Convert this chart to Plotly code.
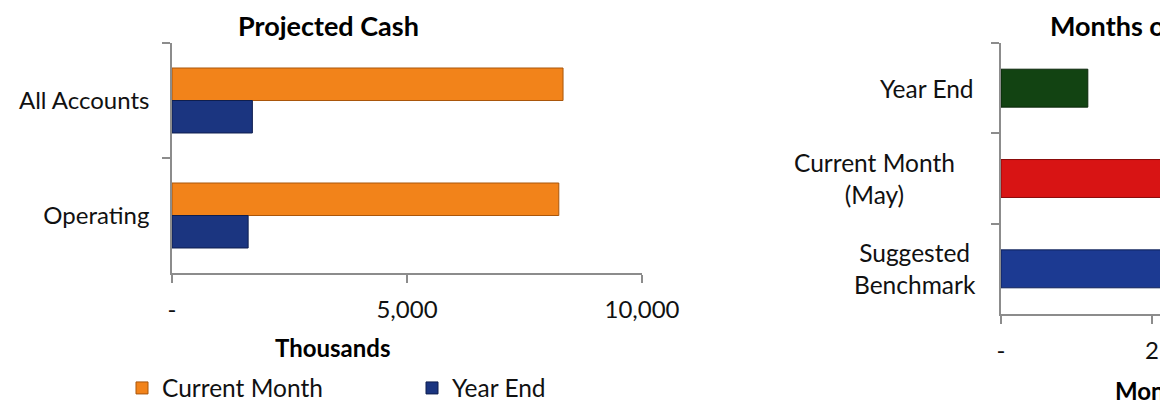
import plotly.graph_objects as go

W, H = 1160, 403

# Projected cash, in thousands
cash_categories = ["All Accounts", "Operating"]
current_month_cash = [8320, 8230]
year_end_cash = [1710, 1620]
cash_ticks = [0, 5000, 10000]
cash_tick_labels = ["-", "5,000", "10,000"]

# Months of cash on hand
months_categories = ["Year End", "Current Month (May)", "Suggested Benchmark"]
months_labels = ["Year End", "Current Month<br>(May)", "Suggested<br>Benchmark"]
months_values = [1.15, 5.6, 3.0]
months_ticks = [0, 2, 4, 6]
months_tick_labels = ["-", "2", "4", "6"]

FONT = "Lato"
TEXT = "#111111"
AXIS_GREY = "#8c8c8c"
ORANGE, ORANGE_EDGE = "#F2831A", "#A9560B"
NAVY, NAVY_EDGE = "#1B3580", "#0E1E4E"
months_colors = ["#124312", "#D81414", "#1C3A92"]
months_edges = ["#0A260A", "#8A0A0A", "#0F2057"]


def px(x):
    return x / W


def py(y):
    return 1 - y / H


fig = go.Figure()

fig.add_trace(go.Bar(
    name="Current Month", y=cash_categories, x=current_month_cash, orientation="h",
    marker=dict(color=ORANGE, line=dict(color=ORANGE_EDGE, width=1)),
    xaxis="x", yaxis="y",
))
fig.add_trace(go.Bar(
    name="Year End", y=cash_categories, x=year_end_cash, orientation="h",
    marker=dict(color=NAVY, line=dict(color=NAVY_EDGE, width=1)),
    xaxis="x", yaxis="y",
))
fig.add_trace(go.Bar(
    y=months_categories, x=months_values, orientation="h", width=0.42,
    marker=dict(color=months_colors, line=dict(color=months_edges, width=1)),
    xaxis="x2", yaxis="y2", showlegend=False,
))

axis_common = dict(
    showline=True, linecolor=AXIS_GREY, linewidth=1.5,
    ticks="outside", tickcolor=AXIS_GREY, tickwidth=1.5, ticklen=8,
    showgrid=False, zeroline=False, fixedrange=True, automargin=False,
    tickfont=dict(family=FONT, size=24, color=TEXT),
)


def label(text, x, y, size, bold=False, xanchor="center", yref="paper"):
    return dict(
        text=f"<b>{text}</b>" if bold else text,
        x=px(x), y=y if yref != "paper" else py(y),
        xref="paper", yref=yref, xanchor=xanchor, yanchor="middle",
        align="center", showarrow=False,
        font=dict(family=FONT, size=size, color="#000000" if bold else TEXT),
    )


annotations = [
    label("Projected Cash", 328, 26, 27, bold=True),
    label("Thousands", 332, 347, 24, bold=True),
    label("Months of Cash", 1048, 26, 27, bold=True, xanchor="left"),
    label("Months", 1113, 390, 24, bold=True, xanchor="left"),
]
label_centres = [927, 874, 915]
for cat, lab, cx in zip(months_categories, months_labels, label_centres):
    annotations.append(label(lab, cx, cat, 24.5, yref="y2"))

fig.update_layout(
    width=W, height=H,
    margin=dict(l=0, r=0, t=0, b=0, pad=0, autoexpand=False),
    paper_bgcolor="white", plot_bgcolor="white",
    barmode="group", bargap=0.435, bargroupgap=0,
    xaxis=dict(axis_common, domain=[px(172), px(642)], range=[0, 10000],
               tickvals=cash_ticks, ticktext=cash_tick_labels, anchor="y",
               ticklabelstandoff=6),
    yaxis=dict(axis_common, domain=[py(273), py(43)], type="category",
               categoryorder="array", categoryarray=cash_categories,
               autorange="reversed", tickson="boundaries", anchor="x",
               ticklabelstandoff=16),
    xaxis2=dict(axis_common, domain=[px(1001), 1], range=[0, 2.106],
                tickvals=months_ticks, ticktext=months_tick_labels, anchor="y2",
                ticklabelstandoff=6),
    yaxis2=dict(axis_common, domain=[py(314), py(43)], type="category",
                categoryorder="array", categoryarray=months_categories,
                autorange="reversed", tickson="boundaries", anchor="x2",
                showticklabels=False),
    legend=dict(orientation="h", x=px(122), y=py(388), xanchor="left", yanchor="middle",
                entrywidth=245, entrywidthmode="pixels",
                font=dict(family=FONT, size=24.5, color=TEXT),
                bgcolor="rgba(0,0,0,0)"),
    annotations=annotations,
    showlegend=True,
)

fig.write_html("out.html")
